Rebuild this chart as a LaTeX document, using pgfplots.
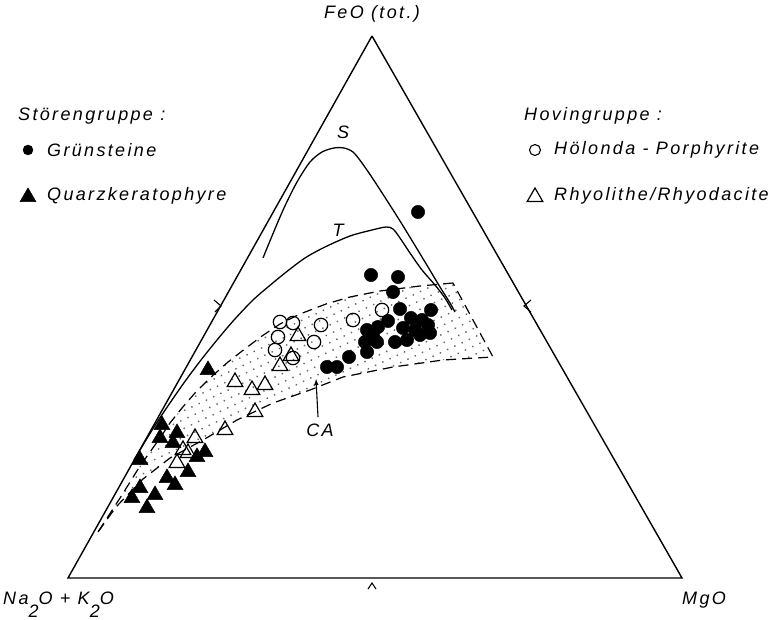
\documentclass[border=0pt]{standalone}
\usepackage{pgfplots}
\pgfplotsset{compat=1.18}
\usepackage{fontspec}
\setmainfont{Liberation Sans}
\newfontfamily\lab[LetterSpace=13]{Liberation Sans}
\usetikzlibrary{patterns.meta}
\newcommand\labfont{\lab\itshape\fontsize{18}{20}\selectfont}
\tikzset{lab/.style={font=\labfont,inner sep=0pt}}
\begin{document}
\begin{tikzpicture}
\begin{axis}[x=1pt,y=1pt,xmin=0,xmax=779,ymin=0,ymax=620,y dir=reverse,
  axis lines=none,clip=false,enlargelimits=false]
% CA field (stippled)
\addplot[draw=none,pattern={Dots[distance=8pt,radius=1pt,angle=25]},pattern color=black!60] coordinates {
(453,283) (420,286) (380,291) (350,297) (326,304) (300,314) (280,324) (262,336) (246,348) (228,362) (210,378) (195,393) (182,408) (170,423) (160,438) (150,452) (140,466) (122,495) (98,532)
(116,507) (143,479) (170,458) (203,440) (237,420) (273,403) (310,390) (343,377) (393,367) (443,360) (493,357) (453,283)};
% dashed boundaries
\addplot[black,line width=1.2pt,dash pattern=on 10pt off 6pt] coordinates {
(453,283) (420,286) (380,291) (350,297) (326,304) (300,314) (280,324) (262,336) (246,348) (228,362) (210,378) (195,393) (182,408) (170,423) (160,438) (150,452) (140,466) (122,495) (98,532)};
\addplot[black,line width=1.2pt,dash pattern=on 10pt off 6pt] coordinates {
(98,532) (116,507) (143,479) (170,458) (203,440) (237,420) (273,403) (310,390) (343,377) (393,367) (443,360) (493,357) (453,283)};
% triangle
\addplot[black,line width=1.4pt] coordinates {(372,36) (68,578) (682,578) (372,36)};
% edge ticks
\addplot[black,line width=1.1pt] coordinates {(214,300) (221,306) (215,312)};
\addplot[black,line width=1.1pt] coordinates {(531,300) (524,306) (531,312)};
\addplot[black,line width=1.1pt] coordinates {(368,589) (372,583) (376,589)};
% S curve
\addplot[black,line width=1.3pt,smooth] coordinates {
(263,258) (272,236) (284,208) (297,182) (310,162) (322,152) (334,148) (344,148) (353,152) (362,163) (375,182) (400,221) (425,262) (440,287) (450,303) (455,312)};
% T curve
\addplot[black,line width=1.3pt,smooth] coordinates {
(134,460) (146,440) (158.5,420) (172,400) (186,380) (201,360) (217,340) (234,320) (253,300) (268,287) (285,273) (305,258) (325,247) (350,236) (372,230) (386,227) (393,229) (400,238) (410,253) (422,270) (435,285) (445,298) (452,310)};
% CA arrow
\addplot[black,line width=1.1pt,-latex] coordinates {(318,417) (316,379)};
% Gruensteine
\addplot[only marks,mark=*,mark size=6.7pt,black] coordinates {
(418,212) (371,275) (398,277) (393,292) (400,309) (431,310) (388,321) (411,318) (422,320) (403,328) (428,325) (415,330) (395,342) (407,340) (420,335) (430,333) (367,330) (378,327) (373,336) (365,342) (377,342) (367,352) (349,357) (327,367) (337,367)};
\addplot[only marks,mark=*,mark size=5pt,black] coordinates {(28,150)};
% Hoelonda-Porphyrite
\addplot[only marks,mark=o,mark size=6.7pt,black,line width=1.2pt,mark options={fill=white}] coordinates {
(280,322) (293,323) (321,325) (278,337) (314,342) (275,350) (293,358) (353,320) (382,310)};
\addplot[only marks,mark=o,mark size=5.5pt,black,line width=1.1pt] coordinates {(535,150)};
% Rhyolithe
\addplot[only marks,mark=triangle,mark size=9pt,black,line width=1.2pt,mark options={fill=white}] coordinates {
(298,336) (291,356) (280,366) (265,385) (252,390) (235,382) (255,412) (225,430) (195,438) (183,450) (177,463) (188,453)
(535,197)};
% Quarzkeratophyre
\addplot[only marks,mark=triangle*,mark size=9.2pt,black] coordinates {
(208,370) (162,425) (177,433) (160,438) (173,443) (140,460) (205,452) (197,457) (188,472) (167,478) (175,485) (140,488) (155,495) (132,498) (147,508)
(28,197)};
% labels
\node[lab,anchor=center] at (axis cs:372,14) {FeO (tot.)};
\node[lab,anchor=base west] at (axis cs:18,121) {Störengruppe :};
\node[lab,anchor=west] at (axis cs:47,150) {Grünsteine};
\node[lab,anchor=west] at (axis cs:47,196) {Quarzkeratophyre};
\node[lab,anchor=base west] at (axis cs:524,121) {Hovingruppe :};
\node[lab,anchor=west] at (axis cs:554,150) {Hölonda - Porphyrite};
\node[lab,anchor=west] at (axis cs:554,196) {Rhyolithe/Rhyodacite};
\node[lab,anchor=center] at (axis cs:343,132) {S};
\node[lab,anchor=center] at (axis cs:338,230) {T};
\node[lab,anchor=center] at (axis cs:320,430) {CA};
\node[lab,anchor=base west] at (axis cs:3,604) {Na\raisebox{-13pt}{2}O + K\raisebox{-13pt}{2}O};
\node[lab,anchor=base west] at (axis cs:682,604) {MgO};
\end{axis}
\pgfresetboundingbox
\useasboundingbox (current axis.south west) rectangle (current axis.north east);
\end{tikzpicture}
\end{document}
